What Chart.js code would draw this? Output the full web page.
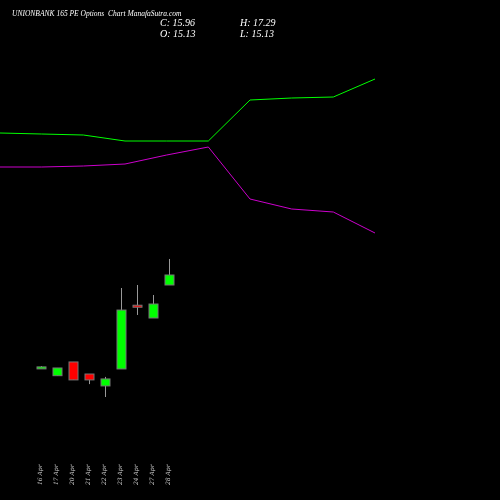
<!DOCTYPE html><html><head><style>html,body{margin:0;background:#000}#c{display:block}</style>
<script src="https://cdn.jsdelivr.net/npm/chart.js@4"></script></head><body>
<div style="width:500px;height:500px"><canvas id="c"></canvas></div>
<script>
const dates=['16 Apr','17 Apr','20 Apr','21 Apr','22 Apr','23 Apr','24 Apr','27 Apr','28 Apr'];
const opens=[8.3,7.6,8.74,7.74,6.75,8.16,13.45,12.39,15.13];
const highs=[8.4,8.24,8.74,7.74,7.5,14.88,15.13,14.3,17.29];
const lows=[8.25,7.6,7.25,6.9,5.83,8.16,12.64,12.39,15.13];
const closes=[8.33,8.24,7.25,7.25,7.33,13.05,13.3,13.55,15.96];
const upper=[367,366,365,359,359,359,400,402,403,421];
const lower=[333,333,334,336,345,353,301,291,288,267];
const candle={id:'candle',afterDatasetsDraw(ch){const c=ch.ctx,x=ch.scales.x,y=ch.scales.y;
c.save();
for(let i=0;i<dates.length;i++){const px=Math.round(x.getPixelForValue(i))+0.5;
c.strokeStyle='#999';c.lineWidth=1;c.beginPath();c.moveTo(px,y.getPixelForValue(highs[i]));c.lineTo(px,y.getPixelForValue(lows[i]));c.stroke();
const up=closes[i]>=opens[i];c.fillStyle=up?'#00ff00':'#ff0000';
let t=y.getPixelForValue(Math.max(opens[i],closes[i])),b=y.getPixelForValue(Math.min(opens[i],closes[i]));if(b-t<2){b=t+2}
c.fillRect(px-4.5,t,9,b-t);c.strokeStyle='#777';c.strokeRect(px-4.5,t,9,b-t);
c.save();c.translate(px,485);c.rotate(-Math.PI/2);c.fillStyle='#ccc';c.font='italic 6px "DejaVu Serif"';c.textAlign='left';c.fillText(dates[i],0,0);c.restore();}
c.fillStyle='#fff';c.font='italic 7.5px "Liberation Serif"';c.fillText('UNIONBANK 165 PE Options  Chart ManafaSutra.com',12,16);
c.font='italic 10px "Liberation Serif"';c.fillText('C: 15.96',160,26);c.fillText('O: 15.13',160,37);c.fillText('H: 17.29',240,26);c.fillText('L: 15.13',240,37);
c.restore();}};
new Chart(document.getElementById('c'),{type:'line',
data:{datasets:[
{data:upper.map((v,i)=>({x:i,y:v})),borderColor:'#00ff00',borderWidth:1,pointRadius:0,xAxisID:'x2',yAxisID:'y2',tension:0},
{data:lower.map((v,i)=>({x:i,y:v})),borderColor:'#cc00cc',borderWidth:1,pointRadius:0,xAxisID:'x2',yAxisID:'y2',tension:0}]},
options:{responsive:true,maintainAspectRatio:false,animation:false,layout:{padding:0},
plugins:{legend:{display:false},tooltip:{enabled:false}},
scales:{x:{type:'linear',display:false,min:-2.5625,max:28.6875},y:{display:false,min:-2.72,max:38.79},
x2:{type:'linear',display:false,min:0,max:12},y2:{display:false,min:0,max:500}}},
plugins:[candle]});
</script></body></html>
